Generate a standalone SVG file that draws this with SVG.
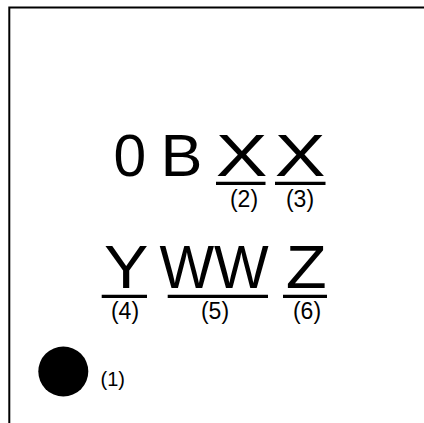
<svg xmlns="http://www.w3.org/2000/svg" width="424" height="423" viewBox="0 0 424 423">
<style>
.big{font-family:"Liberation Sans",Arial,sans-serif;fill:#000}
.r1{font-size:58.7px}
.r2{font-size:61.5px}
.lab{font-family:"Liberation Sans",Arial,sans-serif;font-size:23px;fill:#000;text-anchor:middle}
.ul{stroke:#000;stroke-width:3.2;fill:none}
</style>
<rect x="0" y="0" width="424" height="423" fill="#fff"/>
<g id="frame">
<path d="M9.3,423 V7.6 H424" fill="none" stroke="#000" stroke-width="2"/>
</g>
<g id="row1">
<text class="big r1" x="113.5" y="175.5">0</text>
<text class="big r1" x="160.4" y="175.5" textLength="42" lengthAdjust="spacingAndGlyphs">B</text>
</g>
<g id="x1">
<text class="big r1" x="215.7" y="175.5" textLength="51.8" lengthAdjust="spacingAndGlyphs">X</text>
<line class="ul" x1="216" y1="183.3" x2="265.5" y2="183.3"/>
<text class="lab" x="244" y="207">(2)</text>
</g>
<g id="x2">
<text class="big r1" x="274.7" y="175.5" textLength="50.8" lengthAdjust="spacingAndGlyphs">X</text>
<line class="ul" x1="275" y1="183.3" x2="325.5" y2="183.3"/>
<text class="lab" x="300" y="207">(3)</text>
</g>
<g id="y">
<text class="big r2" x="104" y="287.5" textLength="44.4" lengthAdjust="spacingAndGlyphs">Y</text>
<line class="ul" x1="101.7" y1="296.3" x2="147" y2="296.3"/>
<text class="lab" x="125" y="319">(4)</text>
</g>
<g id="ww">
<text class="big r2" x="159.4" y="287.5" textLength="109.3" lengthAdjust="spacingAndGlyphs">WW</text>
<line class="ul" x1="167.7" y1="296.3" x2="268" y2="296.3"/>
<text class="lab" x="215" y="319">(5)</text>
</g>
<g id="z">
<text class="big r2" x="285.7" y="287.5" textLength="41" lengthAdjust="spacingAndGlyphs">Z</text>
<line class="ul" x1="283" y1="296.3" x2="327" y2="296.3"/>
<text class="lab" x="307" y="319">(6)</text>
</g>
<g id="dot">
<circle cx="63.3" cy="371.5" r="25" fill="#000"/>
<text x="100.5" y="386" font-family="Liberation Sans,Arial,sans-serif" font-size="20">(1)</text>
</g>
</svg>
